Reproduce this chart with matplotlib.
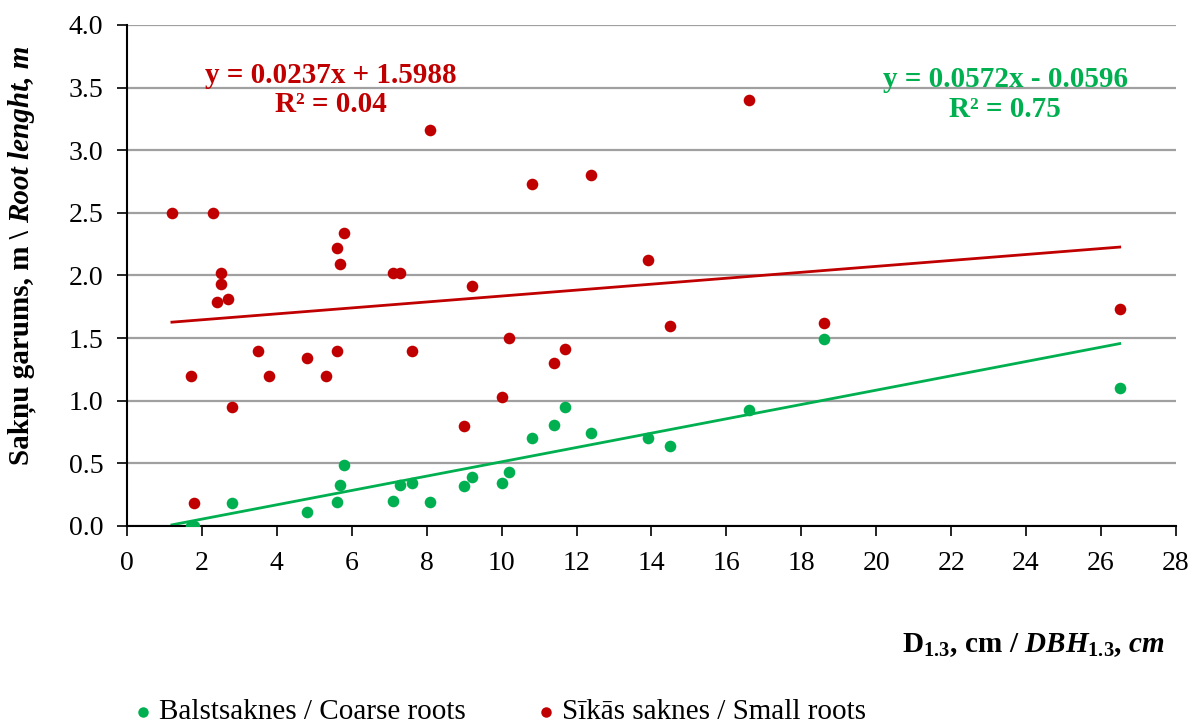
import matplotlib
matplotlib.use('Agg')
import matplotlib.pyplot as plt
import numpy as np

# diameter at 1.3 m, cm
x_small = [1.2, 2.3, 2.5, 2.5, 2.4, 2.7, 1.7, 1.8, 2.8, 3.5, 3.8, 4.8, 5.3, 5.6, 5.6, 5.7, 5.8,
           7.1, 7.3, 7.6, 8.1, 9.0, 9.2, 10.0, 10.2, 10.8, 11.4, 11.7, 12.4, 13.9, 14.5, 16.6, 18.6, 26.5]
y_small = [2.50, 2.50, 2.02, 1.93, 1.79, 1.81, 1.20, 0.18, 0.95, 1.40, 1.20, 1.34, 1.20, 1.40, 2.22, 2.09, 2.34,
           2.02, 2.02, 1.40, 3.16, 0.80, 1.92, 1.03, 1.50, 2.73, 1.30, 1.41, 2.80, 2.12, 1.60, 3.40, 1.62, 1.73]

x_coarse = [1.7, 1.8, 2.8, 4.8, 5.6, 5.7, 5.8, 7.1, 7.3, 7.6, 8.1, 9.0, 9.2, 10.0, 10.2,
            10.8, 11.4, 11.7, 12.4, 13.9, 14.5, 16.6, 18.6, 26.5]
y_coarse = [0.00, 0.00, 0.18, 0.11, 0.19, 0.33, 0.49, 0.20, 0.33, 0.34, 0.19, 0.32, 0.39, 0.34, 0.43,
            0.70, 0.81, 0.95, 0.74, 0.70, 0.64, 0.93, 1.49, 1.10]

# trend lines as printed on the chart
fit_small = (0.0237, 1.5988, 0.04)
fit_coarse = (0.0572, -0.0596, 0.75)

red = '#C00000'
green = '#00B050'

plt.rcParams['font.family'] = ['Liberation Serif', 'DejaVu Serif']
plt.rcParams['mathtext.fontset'] = 'custom'
plt.rcParams['mathtext.rm'] = 'Liberation Serif:bold'
plt.rcParams['mathtext.it'] = 'Liberation Serif:bold:italic'
plt.rcParams['mathtext.bf'] = 'Liberation Serif:bold'

fig = plt.figure(figsize=(11.92, 7.24), dpi=100)
ax = fig.add_axes([0.1065, 0.2735, 0.880, 0.692])

ax.scatter(x_coarse, y_coarse, s=70, color=green, zorder=3, linewidths=0,
           label='Balstsaknes / Coarse roots')
ax.scatter(x_small, y_small, s=70, color=red, zorder=3, linewidths=0,
           label='Sīkās saknes / Small roots')

xl = np.array([min(x_small), max(x_small)])
ax.plot(xl, fit_small[0] * xl + fit_small[1], color=red, lw=2, zorder=2)
ax.plot(xl, fit_coarse[0] * xl + fit_coarse[1], color=green, lw=2, zorder=2)

ax.text(5.45, 3.48, 'y = %.4fx + %.4f\nR² = %.2f' % fit_small, color=red, fontsize=21,
        fontweight='bold', ha='center', va='center', multialignment='center', linespacing=1.1)
ax.text(23.44, 3.445, 'y = %.4fx - %.4f\nR² = %.2f' % (fit_coarse[0], -fit_coarse[1], fit_coarse[2]),
        color=green, fontsize=21, fontweight='bold', ha='center', va='center',
        multialignment='center', linespacing=1.1)

ax.set_xlim(0, 28)
ax.set_ylim(0, 4)
ax.set_xticks(np.arange(0, 29, 2))
ax.set_yticks(np.arange(0, 4.01, 0.5))
ax.set_yticklabels(['%.1f' % v for v in np.arange(0, 4.01, 0.5)])
ax.tick_params(labelsize=20, length=7, width=1.2, direction='out')
ax.tick_params(axis='y', pad=10)
ax.tick_params(axis='x', pad=11)
ax.grid(axis='y', color='#A0A0A0', lw=1.6)
ax.set_axisbelow(True)
for s in ['top', 'right']:
    ax.spines[s].set_visible(False)
for s in ['left', 'bottom']:
    ax.spines[s].set_linewidth(1.5)

# y label: normal bold part + bold italic part
t1 = fig.text(22, 724 - 465, 'Sakņu garums, m \\ ', fontsize=21, fontweight='bold',
              rotation=90, ha='center', va='bottom', transform=None)
fig.canvas.draw()
bb = t1.get_window_extent()
fig.text(22, bb.y1, 'Root lenght, m', fontsize=21, fontweight='bold', fontstyle='italic',
         rotation=90, ha='center', va='bottom', transform=None)

fig.text(0.977, 0.109, r'$\mathrm{D_{1.3}{,}\ cm\ /\ }\mathit{DBH_{1.3}{,}\ cm}$', fontsize=21,
         ha='right', va='center')

fig.legend(loc='center', bbox_to_anchor=(0.42, 0.0166), ncol=2, frameon=False, fontsize=21,
           markerscale=0.9, handlelength=0.5, handletextpad=0.3, columnspacing=2.5, borderpad=0)

fig.savefig('out.png', dpi=100)
